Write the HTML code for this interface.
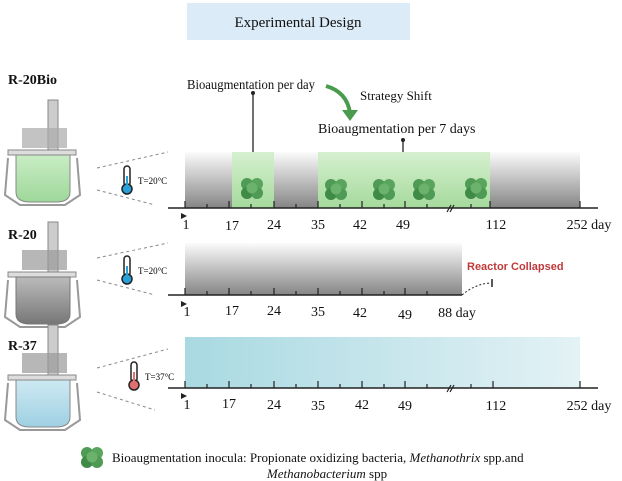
<!DOCTYPE html>
<html><head><meta charset="utf-8"><style>
body{margin:0;background:#fff;}
svg{display:block;font-family:"Liberation Serif",serif;}
.s{font-family:"Liberation Sans",sans-serif;}
</style></head><body>
<svg width="622" height="481" viewBox="0 0 622 481">
<defs>
<linearGradient id="gv" x1="0" y1="0" x2="0" y2="1"><stop offset="0" stop-color="#fbfbfb"/><stop offset="1" stop-color="#858585"/></linearGradient>
<linearGradient id="gg" x1="0" y1="0" x2="0" y2="1"><stop offset="0" stop-color="#d6f0d0"/><stop offset="1" stop-color="#a5da9c"/></linearGradient>
<linearGradient id="gt" x1="0" y1="0" x2="1" y2="0"><stop offset="0" stop-color="#a9d9e2"/><stop offset="1" stop-color="#e3f2f5"/></linearGradient>
<linearGradient id="lq" x1="0" y1="0" x2="0" y2="1"><stop offset="0" stop-color="#c9ecc5"/><stop offset="1" stop-color="#9ed89a"/></linearGradient>
<linearGradient id="lgr" x1="0" y1="0" x2="0" y2="1"><stop offset="0" stop-color="#bbb"/><stop offset="1" stop-color="#777"/></linearGradient>
<linearGradient id="lb" x1="0" y1="0" x2="0" y2="1"><stop offset="0" stop-color="#cde9f2"/><stop offset="1" stop-color="#9fd0e2"/></linearGradient>
<g id="blob"><circle cx="-5" cy="-4" r="6" fill="#4f9a55"/><circle cx="5" cy="-4" r="6" fill="#5aa55e"/><circle cx="-5" cy="5" r="6" fill="#3f8a46"/><circle cx="5" cy="5" r="6" fill="#4f9a55"/><circle cx="0" cy="0" r="5.5" fill="#6bb36d"/></g>
</defs>

<rect x="187" y="3" width="223" height="37" fill="#dcebf8"/>
<text x="298" y="27" font-size="15" text-anchor="middle" fill="#111">Experimental Design</text>

<text x="8" y="84" font-size="14" font-weight="bold" fill="#111">R-20Bio</text>
<text x="8" y="239" font-size="14" font-weight="bold" fill="#111">R-20</text>
<text x="8" y="350" font-size="14" font-weight="bold" fill="#111">R-37</text>

<g>
<rect x="48" y="100" width="10" height="50" fill="#ccc" stroke="#888" stroke-width="1"/>
<rect x="22" y="128" width="45" height="20" fill="#aaa" opacity=".7"/>
<rect x="8" y="150" width="68" height="5" fill="#ddd" stroke="#888" stroke-width="1"/>
<path d="M16 155 L16 192 Q16 202 30 202 L56 202 Q70 202 70 192 L70 155 Z" fill="url(#lq)" stroke="#888"/>
<path d="M8 158 L5 195 L20 205 L65 205 L80 195 L77 158" fill="none" stroke="#999" stroke-width="2"/>
</g>
<g transform="translate(0,122)">
<rect x="48" y="100" width="10" height="50" fill="#ccc" stroke="#888"/>
<rect x="22" y="128" width="45" height="20" fill="#999" opacity=".7"/>
<rect x="8" y="150" width="68" height="5" fill="#ddd" stroke="#888"/>
<path d="M16 155 L16 192 Q16 202 30 202 L56 202 Q70 202 70 192 L70 155 Z" fill="url(#lgr)" stroke="#777"/>
<path d="M8 158 L5 195 L20 205 L65 205 L80 195 L77 158" fill="none" stroke="#999" stroke-width="2"/>
</g>
<g transform="translate(0,225)">
<rect x="48" y="100" width="10" height="50" fill="#ccc" stroke="#888"/>
<rect x="22" y="128" width="45" height="20" fill="#999" opacity=".7"/>
<rect x="8" y="150" width="68" height="5" fill="#ddd" stroke="#888"/>
<path d="M16 155 L16 192 Q16 202 30 202 L56 202 Q70 202 70 192 L70 155 Z" fill="url(#lb)" stroke="#888"/>
<path d="M8 158 L5 195 L20 205 L65 205 L80 195 L77 158" fill="none" stroke="#999" stroke-width="2"/>
</g>

<g stroke="#888" stroke-dasharray="3,3" stroke-width="1">
<line x1="97" y1="168" x2="168" y2="152"/><line x1="97" y1="190" x2="155" y2="205"/>
<line x1="97" y1="258" x2="168" y2="243"/><line x1="97" y1="280" x2="155" y2="295"/>
<line x1="97" y1="368" x2="168" y2="349"/><line x1="97" y1="392" x2="155" y2="410"/>
</g>

<g>
<rect x="124" y="166" width="6" height="20" rx="3" fill="#fff" stroke="#222" stroke-width="1.5"/><circle cx="127" cy="189" r="5" fill="#2aa0d8" stroke="#222" stroke-width="1.5"/><rect x="126" y="176" width="2" height="10" fill="#2aa0d8"/>
<text x="138" y="184" font-size="9">T=20°C</text>
<rect x="124" y="256" width="6" height="20" rx="3" fill="#fff" stroke="#222" stroke-width="1.5"/><circle cx="127" cy="279" r="5" fill="#2aa0d8" stroke="#222" stroke-width="1.5"/><rect x="126" y="266" width="2" height="10" fill="#2aa0d8"/>
<text x="138" y="274" font-size="9">T=20°C</text>
<rect x="131" y="362" width="6" height="20" rx="3" fill="#fff" stroke="#222" stroke-width="1.5"/><circle cx="134" cy="385" r="5" fill="#e07070" stroke="#222" stroke-width="1.5"/><rect x="133" y="372" width="2" height="10" fill="#e07070"/>
<text x="145" y="380" font-size="9">T=37°C</text>
</g>

<rect x="185" y="152" width="395" height="56" fill="url(#gv)"/>
<rect x="232" y="152" width="42" height="56" fill="url(#gg)"/>
<rect x="318" y="152" width="172" height="56" fill="url(#gg)"/>
<use href="#blob" x="252" y="188"/><use href="#blob" x="336" y="189"/><use href="#blob" x="384" y="189"/><use href="#blob" x="424" y="189"/><use href="#blob" x="476" y="188"/>
<line x1="168" y1="208" x2="598" y2="208" stroke="#222" stroke-width="1.5"/>
<g stroke="#222" stroke-width="1.2">
<line x1="185" y1="201" x2="185" y2="208"/><line x1="207" y1="204" x2="207" y2="208"/><line x1="229" y1="201" x2="229" y2="208"/><line x1="251" y1="204" x2="251" y2="208"/><line x1="274" y1="201" x2="274" y2="208"/><line x1="296" y1="204" x2="296" y2="208"/><line x1="318" y1="201" x2="318" y2="208"/><line x1="340" y1="204" x2="340" y2="208"/><line x1="362" y1="201" x2="362" y2="208"/><line x1="384" y1="204" x2="384" y2="208"/><line x1="405" y1="201" x2="405" y2="208"/><line x1="427" y1="204" x2="427" y2="208"/><line x1="471" y1="204" x2="471" y2="208"/><line x1="490" y1="201" x2="490" y2="208"/><line x1="580" y1="201" x2="580" y2="208"/>
<line x1="447" y1="212" x2="451" y2="205"/><line x1="450" y1="212" x2="454" y2="205"/>
</g>
<path d="M181 213 L187 216 L181 219Z" fill="#222"/>
<g font-size="14" fill="#111" text-anchor="middle">
<text x="186" y="229">1</text><text x="232" y="230">17</text><text x="274" y="229">24</text><text x="318" y="229">35</text><text x="360" y="229">42</text><text x="403" y="229">49</text><text x="496" y="229">112</text><text x="589" y="229">252 day</text>
</g>

<text x="187" y="89" font-size="14" fill="#111" textLength="128" lengthAdjust="spacingAndGlyphs">Bioaugmentation per day</text>
<line x1="253" y1="93" x2="253" y2="152" stroke="#222" stroke-width="1.3"/><circle cx="253" cy="93" r="2" fill="#222"/>
<path d="M326 86 Q347 92 350 113" fill="none" stroke="#4a9b4e" stroke-width="4"/>
<path d="M342 110 L358 110 L350 121Z" fill="#4a9b4e"/>
<text x="360" y="100" font-size="13" fill="#111">Strategy Shift</text>
<text x="318" y="133" font-size="14" fill="#111">Bioaugmentation per 7 days</text>
<line x1="403" y1="140" x2="403" y2="152" stroke="#222" stroke-width="1.3"/><circle cx="403" cy="140" r="2" fill="#222"/>

<rect x="185" y="243" width="277" height="52" fill="url(#gv)"/>
<line x1="168" y1="295" x2="462" y2="295" stroke="#222" stroke-width="1.5"/>
<g stroke="#222" stroke-width="1.2">
<line x1="185" y1="288" x2="185" y2="295"/><line x1="207" y1="291" x2="207" y2="295"/><line x1="229" y1="288" x2="229" y2="295"/><line x1="251" y1="291" x2="251" y2="295"/><line x1="274" y1="288" x2="274" y2="295"/><line x1="296" y1="291" x2="296" y2="295"/><line x1="318" y1="288" x2="318" y2="295"/><line x1="340" y1="291" x2="340" y2="295"/><line x1="362" y1="288" x2="362" y2="295"/><line x1="384" y1="291" x2="384" y2="295"/><line x1="405" y1="288" x2="405" y2="295"/><line x1="427" y1="291" x2="427" y2="295"/>
</g>
<path d="M462 295 Q475 284 490 283" fill="none" stroke="#222" stroke-dasharray="2,2"/>
<line x1="492" y1="279" x2="492" y2="287" stroke="#222" stroke-width="1.5"/>
<text x="467" y="270" font-size="11" font-weight="bold" fill="#c0393b" class="s">Reactor Collapsed</text>
<path d="M181 301 L187 304 L181 307Z" fill="#222"/>
<g font-size="14" fill="#111" text-anchor="middle">
<text x="187" y="316">1</text><text x="232" y="315">17</text><text x="274" y="315">24</text><text x="318" y="316">35</text><text x="360" y="317">42</text><text x="405" y="319">49</text><text x="457" y="317">88 day</text>
</g>

<rect x="185" y="337" width="395" height="51" fill="url(#gt)"/>
<line x1="168" y1="388" x2="598" y2="388" stroke="#222" stroke-width="1.5"/>
<g stroke="#222" stroke-width="1.2">
<line x1="185" y1="381" x2="185" y2="388"/><line x1="207" y1="384" x2="207" y2="388"/><line x1="229" y1="381" x2="229" y2="388"/><line x1="251" y1="384" x2="251" y2="388"/><line x1="274" y1="381" x2="274" y2="388"/><line x1="296" y1="384" x2="296" y2="388"/><line x1="318" y1="381" x2="318" y2="388"/><line x1="340" y1="384" x2="340" y2="388"/><line x1="362" y1="381" x2="362" y2="388"/><line x1="384" y1="384" x2="384" y2="388"/><line x1="405" y1="381" x2="405" y2="388"/><line x1="427" y1="384" x2="427" y2="388"/><line x1="471" y1="384" x2="471" y2="388"/><line x1="493" y1="381" x2="493" y2="388"/><line x1="580" y1="381" x2="580" y2="388"/>
<line x1="447" y1="392" x2="451" y2="385"/><line x1="450" y1="392" x2="454" y2="385"/>
</g>
<path d="M181 393 L187 396 L181 399Z" fill="#222"/>
<g font-size="14" fill="#111" text-anchor="middle">
<text x="187" y="409">1</text><text x="229" y="408">17</text><text x="274" y="409">24</text><text x="318" y="410">35</text><text x="362" y="409">42</text><text x="405" y="410">49</text><text x="496" y="410">112</text><text x="589" y="410">252 day</text>
</g>

<use href="#blob" x="92" y="457"/>
<text x="112" y="462" font-size="13" fill="#111">Bioaugmentation inocula: Propionate oxidizing bacteria, <tspan font-style="italic">Methanothrix</tspan> spp.and</text>
<text x="327" y="478" font-size="13" fill="#111" text-anchor="middle"><tspan font-style="italic">Methanobacterium</tspan> spp</text>
</svg>
</body></html>
